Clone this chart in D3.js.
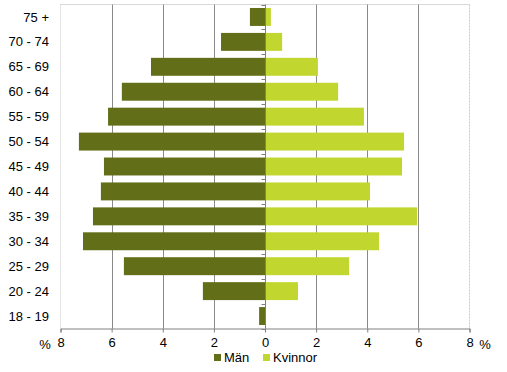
<!DOCTYPE html>
<html>
<head>
<meta charset="utf-8">
<script src="https://cdn.jsdelivr.net/npm/d3@7"></script>
<style>
  body { margin: 0; background: #fff; }
  text { font-family: "Liberation Sans", Arial, sans-serif; fill: #000; }
</style>
</head>
<body>
<div id="chart"></div>
<script>
// age groups, top to bottom
var categories = ["75 +", "70 - 74", "65 - 69", "60 - 64", "55 - 59", "50 - 54", "45 - 49",
  "40 - 44", "35 - 39", "30 - 34", "25 - 29", "20 - 24", "18 - 19"];
var man = [0.59, 1.72, 4.46, 5.6, 6.14, 7.28, 6.3, 6.42, 6.73, 7.12, 5.52, 2.43, 0.23];
var kvinnor = [0.23, 0.67, 2.07, 2.86, 3.87, 5.44, 5.36, 4.11, 5.95, 4.46, 3.29, 1.29, 0];
var tickValues = [-8, -6, -4, -2, 0, 2, 4, 6, 8];
var seriesNames = ["Män", "Kvinnor"];
var colors = ["#636f18", "#c1d72f"];

var W = 507, H = 372;
var pLeft = 60.5, pRight = 469.5, pTop = 4.5, pBottom = 328.5;

var svg = d3.select("#chart").append("svg")
  .attr("width", W).attr("height", H);

var x = d3.scaleLinear().domain([-8, 8]).range([pLeft, pRight]);
var y = d3.scaleBand().domain(categories).range([pTop, pBottom]).paddingInner(0.28).paddingOuter(0.14);

// frame (top and sides, light)
svg.append("line").attr("x1", pLeft).attr("x2", pRight).attr("y1", pTop).attr("y2", pTop)
  .style("stroke", "#d9d9d9");
svg.append("line").attr("x1", pLeft).attr("x2", pLeft).attr("y1", pTop).attr("y2", pBottom)
  .style("stroke", "#c8c8c8").style("stroke-dasharray", "1,1");
svg.append("line").attr("x1", pRight).attr("x2", pRight).attr("y1", pTop).attr("y2", pBottom)
  .style("stroke", "#c8c8c8").style("stroke-dasharray", "2,1");

// grid lines
svg.selectAll(".grid")
  .data(tickValues.filter(function(d) { return d != 0 && Math.abs(d) != 8; }))
  .enter().append("line")
  .attr("class", "grid")
  .attr("x1", function(d) { return Math.round(x(d)) + 0.5; })
  .attr("x2", function(d) { return Math.round(x(d)) + 0.5; })
  .attr("y1", pTop).attr("y2", pBottom)
  .style("stroke", "#8a8a8a");

// bars
svg.selectAll(".man")
  .data(man)
  .enter().append("rect")
  .attr("class", "man")
  .attr("x", function(d) { return x(-d); })
  .attr("width", function(d) { return x(0) - x(-d); })
  .attr("y", function(d, i) { return y(categories[i]); })
  .attr("height", y.bandwidth())
  .style("fill", colors[0]);

svg.selectAll(".kvinnor")
  .data(kvinnor)
  .enter().append("rect")
  .attr("class", "kvinnor")
  .attr("x", x(0))
  .attr("width", function(d) { return x(d) - x(0); })
  .attr("y", function(d, i) { return y(categories[i]); })
  .attr("height", y.bandwidth())
  .style("fill", colors[1]);

// zero axis with category ticks
var x0 = Math.round(x(0)) + 0.5;
svg.append("line").attr("x1", x0).attr("x2", x0).attr("y1", pTop).attr("y2", pBottom)
  .style("stroke", "#808080");
d3.range(categories.length + 1).forEach(function(i) {
  var yy = Math.round(pTop + i * (pBottom - pTop) / categories.length) + 0.5;
  svg.append("line").attr("x1", x0 - 4).attr("x2", x0).attr("y1", yy).attr("y2", yy)
    .style("stroke", "#808080");
});

// category labels
svg.selectAll(".cat")
  .data(categories)
  .enter().append("text")
  .attr("class", "cat")
  .attr("x", 49)
  .attr("y", function(d) { return y(d) + y.bandwidth() / 2; })
  .attr("dy", "0.35em")
  .attr("text-anchor", "end")
  .style("font-size", "13px")
  .text(function(d) { return d; });

// x axis
var xAxis = svg.append("g")
  .attr("transform", "translate(0," + pBottom + ")")
  .call(d3.axisBottom(x).tickValues(tickValues).tickSize(4).tickPadding(5)
    .tickFormat(function(d) { return Math.abs(d); }));
xAxis.select(".domain").style("stroke", "#808080");
xAxis.selectAll(".tick line").style("stroke", "#808080");
xAxis.selectAll("text").style("font-size", "13px").style("font-family", "'Liberation Sans', Arial, sans-serif");

svg.append("text").attr("x", 45).attr("y", 349).attr("text-anchor", "middle")
  .style("font-size", "13px").text("%");
svg.append("text").attr("x", 485).attr("y", 349).attr("text-anchor", "middle")
  .style("font-size", "13px").text("%");

// legend
var legend = svg.selectAll(".legend")
  .data(seriesNames)
  .enter().append("g")
  .attr("class", "legend")
  .attr("transform", function(d, i) { return "translate(" + (i == 0 ? 214 : 263) + ",354)"; });
legend.append("rect").attr("width", 7).attr("height", 7).attr("y", 0)
  .style("fill", function(d, i) { return colors[i]; });
legend.append("text").attr("x", 10).attr("y", 3.5).attr("dy", "0.35em")
  .style("font-size", "13px").text(function(d) { return d; });
</script>
</body>
</html>
